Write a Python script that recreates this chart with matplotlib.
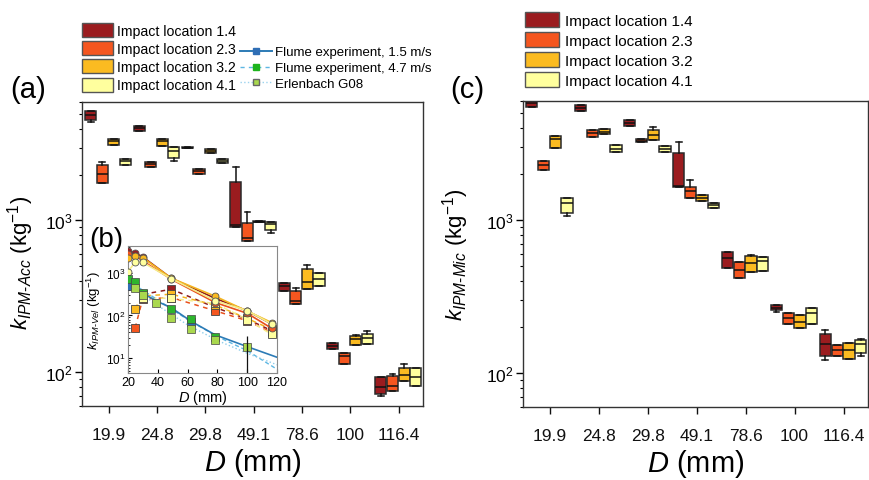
import numpy as np
import matplotlib.pyplot as plt
from matplotlib.patches import Patch
from matplotlib.lines import Line2D

plt.rcParams['font.family'] = ['Liberation Sans', 'DejaVu Sans']
plt.rcParams['mathtext.fontset'] = 'custom'
plt.rcParams['mathtext.rm'] = 'Liberation Sans'
plt.rcParams['mathtext.it'] = 'Liberation Sans:italic'
plt.rcParams['mathtext.bf'] = 'Liberation Sans:bold'

# diameters (category labels)
diam_labels = ['19.9', '24.8', '29.8', '49.1', '78.6', '100', '116.4']
diam_mm = [19.9, 24.8, 29.8, 49.1, 78.6, 100, 116.4]
locations = ['Impact location 1.4', 'Impact location 2.3',
             'Impact location 3.2', 'Impact location 4.1']
loc_colors = ['#9B1C1F', '#F5561F', '#FBBB21', '#FFFF9E']

# panel (a) k_IPM-Acc, rows = (whislo, q1, med, q3, whishi) per diameter
acc_14 = [(4420, 4570, 4900, 5236, 5236), (3865, 3865, 4020, 4170, 4170),
          (2990, 2990, 3010, 3030, 3030), (904, 904, 930, 1787, 2255),
          (343, 343, 370, 389, 389), (142, 142, 149, 155, 155),
          (70, 72.4, 80.5, 93, 93)]
acc_23 = [(1770, 1770, 2010, 2300, 2420), (2250, 2250, 2330, 2420, 2420),
          (2010, 2010, 2110, 2190, 2190), (731, 731, 769, 966, 1141),
          (280, 280, 295, 343, 357), (113, 113, 128, 133, 133),
          (75.5, 75.5, 81, 94.5, 98)]
acc_32 = [(3113, 3113, 3300, 3447, 3447), (3090, 3090, 3330, 3420, 3420),
          (2790, 2790, 2870, 2965, 2965), (975, 975, 980, 990, 990),
          (355, 355, 393, 481, 506), (151, 151, 166, 173, 175),
          (88, 88, 95.8, 106, 113)]
acc_41 = [(2300, 2300, 2455, 2546, 2546), (2440, 2560, 2856, 3055, 3055),
          (2370, 2370, 2460, 2546, 2546), (821, 864, 941, 980, 980),
          (370, 370, 409, 453, 453), (153, 153, 169, 178, 187),
          (81, 81, 93, 106, 106)]

# panel (c) k_IPM-Mic
mic_14 = [(5500, 5500, 5780, 6200, 6200), (5140, 5140, 5380, 5630, 5630),
          (4100, 4100, 4290, 4490, 4490), (1635, 1635, 1660, 2750, 3245),
          (489, 489, 562, 615, 615), (250, 257, 268, 279, 279),
          (121, 130, 155, 180, 192)]
mic_23 = [(2120, 2120, 2285, 2440, 2440), (3500, 3500, 3680, 3865, 3865),
          (3245, 3245, 3300, 3410, 3410), (1385, 1385, 1545, 1652, 1823),
          (417, 417, 473, 535, 535), (210, 210, 228, 246, 246),
          (128.5, 128.5, 142, 153, 153)]
mic_32 = [(2980, 2980, 3410, 3530, 3530), (3640, 3640, 3780, 3925, 3925),
          (3360, 3360, 3620, 3865, 4040), (1338, 1338, 1400, 1456, 1456),
          (456, 456, 522, 582, 590), (197, 197, 217, 238, 238),
          (124, 124, 142, 157, 157)]
mic_41 = [(1060, 1106, 1285, 1385, 1385), (2765, 2765, 2930, 3080, 3080),
          (2790, 2790, 2910, 3040, 3040), (1192, 1192, 1245, 1298, 1298),
          (468, 468, 544, 571, 571), (210, 210, 246, 265, 265),
          (130, 135, 154, 165, 168)]

# inset (b) k_IPM-Vel
vel_fit_14 = [3200, 2900, 2350, 740, 250, 128, 63]
vel_fit_23 = [2700, 2500, 1900, 700, 200, 112, 50]
vel_fit_32 = [2250, 2500, 2250, 740, 280, 126, 68]
vel_fit_41 = [1050, 1750, 1750, 720, 220, 130, 63]
nan = np.nan
vel_box_14 = [nan, nan, 310, 410, 153, 82, 44]
vel_box_23 = [nan, 51, 240, 262, 128, 75, 40]
vel_box_32 = [nan, 145, 286, 313, 174, 85, 47]
vel_box_41 = [nan, nan, 260, 250, 190, 80, 36]

flume_D = [20, 29.8, 40, 49.1, 62.6, 78.6, 100, 120]
flume_15 = [480, 330, 210, 150, 72, 35, 18.6, 10.5]
flume15_pts_D = [19.9, 62.6]
flume15_pts = [480, 70]
flume47_D = [19.9, 24.8, 29.8, 49.1, 62.6, 78.6]
flume47 = [700, 620, 330, 140, 82, 31]
fit47_D = [20, 40, 60, 80, 100, 120]
fit47 = [650, 230, 80, 32, 15, 5.5]
erl_D = [24.8, 29.8, 38.6, 49.1, 62.6, 78.6, 100]
erl = [447, 300, 200, 89, 48, 27, 18]
erl_fit_D = [20, 40, 60, 80, 100, 120]
erl_fit = [520, 170, 60, 26, 13, 7]

W, H = 870, 481
fig = plt.figure(figsize=(W / 100, H / 100), dpi=100)


def px_axes(x0, y0, x1, y1):
    return fig.add_axes([x0 / W, 1 - y1 / H, (x1 - x0) / W, (y1 - y0) / H])


def to_stats(rows):
    return [dict(whislo=r[0], q1=r[1], med=r[2], q3=r[3], whishi=r[4]) for r in rows]


offsets = [-0.37, -0.13, 0.11, 0.35]
groups = np.arange(1, len(diam_labels) + 1)


def box_panel(ax, series):
    for rows, off, col in zip(series, offsets, loc_colors):
        ax.bxp(to_stats(rows), positions=groups + off, widths=0.23,
               capwidths=0.12, patch_artist=True, showfliers=False,
               manage_ticks=False,
               boxprops=dict(facecolor=col, edgecolor='#2a2a2a', linewidth=1.1),
               medianprops=dict(color='#111111', linewidth=1.1),
               whiskerprops=dict(color='#111111', linewidth=1.1),
               capprops=dict(color='#111111', linewidth=1.1))
    ax.set_yscale('log')
    ax.set_ylim(60, 6000)
    ax.set_xlim(0.45, 7.5)
    ax.set_xticks(groups)
    ax.set_xticklabels(diam_labels)
    ax.tick_params(axis='x', which='major', direction='out', length=5,
                   width=1, pad=10, labelsize=12.5, colors='#111')
    ax.tick_params(axis='y', which='major', direction='out', length=5,
                   width=1, pad=2, labelsize=12.5)
    ax.tick_params(axis='y', which='minor', direction='out', length=2.5, width=0.8)
    for s in ax.spines.values():
        s.set_color('#333333')
        s.set_linewidth(1)
    ax.set_xlabel(r'$D$ (mm)', fontsize=21)
    ax.xaxis.set_label_coords(0.5, -0.13)


ax_a = px_axes(82, 103, 423, 407)
box_panel(ax_a, [acc_14, acc_23, acc_32, acc_41])
ax_a.set_ylabel(r'$k_{IPM\text{-}Acc}$ (kg$^{-1}$)', fontsize=16)
ax_a.yaxis.set_label_coords(-0.135, 0.475)

ax_c = px_axes(523, 102, 868, 408)
box_panel(ax_c, [mic_14, mic_23, mic_32, mic_41])
ax_c.set_ylabel(r'$k_{IPM\text{-}Mic}$ (kg$^{-1}$)', fontsize=16)
ax_c.yaxis.set_label_coords(-0.15, 0.5)

# inset (b)
axb = px_axes(128, 247, 277, 374)
axb.set_facecolor('white')
line_cols = ['#8E1B1B', '#E8501C', '#F4B41E', '#F5EC8A']
for fit, col, fc in zip([vel_fit_14, vel_fit_23, vel_fit_32, vel_fit_41],
                        line_cols, loc_colors):
    axb.plot(diam_mm, fit, '-', color=col, lw=1.2, marker='o', ms=5,
             mfc=fc, mec='#555555', mew=0.6, zorder=4)
for box, col, fc in zip([vel_box_14, vel_box_23, vel_box_32, vel_box_41],
                        line_cols, loc_colors):
    axb.plot(diam_mm, box, '--', color=col, lw=1.1, dashes=(3, 3), zorder=3)
    axb.plot(diam_mm, box, 's', ms=5.5, mfc=fc, mec='#444444', mew=0.6, zorder=3)
axb.plot(flume_D, flume_15, '-', color='#2C7BB6', lw=1.2, zorder=5)
axb.plot(flume15_pts_D, flume15_pts, 's', ms=5.5, mfc='#2F6EB5', mec='#444', mew=0.5, zorder=5)
axb.plot(fit47_D, fit47, '--', color='#5DB7E3', lw=1.0, dashes=(3, 2), zorder=4)
axb.plot(erl_fit_D, erl_fit, ':', color='#8FCDEB', lw=1.0, zorder=4)
axb.plot(flume47_D, flume47, 's', ms=5.5, mfc='#2DB52D', mec='#444', mew=0.5, zorder=5)
axb.plot(erl_D, erl, 's', ms=5.5, mfc='#A9D84E', mec='#444', mew=0.5, zorder=5)
axb.errorbar([100], [18], yerr=[[14], [15]], fmt='none', ecolor='#111', lw=0.9, zorder=6)
axb.set_yscale('log')
axb.set_xlim(20, 120)
axb.set_ylim(4.5, 4200)
axb.set_xticks([20, 40, 60, 80, 100, 120])
axb.tick_params(which='both', direction='in', labelsize=9, pad=2)
axb.tick_params(axis='y', labelsize=8.5, pad=1.5)
axb.tick_params(which='major', length=3)
axb.tick_params(which='minor', length=1.5)
for s in axb.spines.values():
    s.set_color('#888888')
axb.set_xlabel(r'$D$ (mm)', fontsize=10.5, labelpad=0)
axb.set_ylabel(r'$k_{IPM\text{-}Vel}$ (kg$^{-1}$)', fontsize=9.5)
axb.yaxis.set_label_coords(-0.165, 0.5)

# panel labels
fig.text(28 / W, 1 - 90 / H, '(a)', fontsize=21, ha='center', va='center')
fig.text(106 / W, 1 - 240 / H, '(b)', fontsize=20, ha='center', va='center')
fig.text(467 / W, 1 - 90 / H, '(c)', fontsize=21, ha='center', va='center')

# legends
patches = [Patch(facecolor=c, edgecolor='#555555', linewidth=1) for c in loc_colors]
fig.legend(patches, locations, loc='upper left', bbox_to_anchor=(82 / W, 1 - 24 / H),
           frameon=False, fontsize=10.2, handlelength=2.2, handleheight=1.12,
           labelspacing=0.25, handletextpad=0.3, borderpad=0, borderaxespad=0)
flume_handles = [
    Line2D([], [], color='#2C7BB6', lw=1.4, marker='s', ms=5, mfc='#2F6EB5', mec='#2F6EB5'),
    Line2D([], [], color='#5DB7E3', lw=1.0, ls='--', dashes=(3, 3), marker='s', ms=5,
           mfc='#1DB31D', mec='#1DB31D'),
    Line2D([], [], color='#9CD3EE', lw=1.0, ls=':', marker='s', ms=5, mfc='#A9D84E', mec='#666'),
]
fig.legend(flume_handles, ['Flume experiment, 1.5 m/s', 'Flume experiment, 4.7 m/s',
                           'Erlenbach G08'],
           loc='upper left', bbox_to_anchor=(240 / W, 1 - 47 / H),
           frameon=False, fontsize=9.5, handlelength=2.4, labelspacing=0.28,
           handletextpad=0.25, borderpad=0, borderaxespad=0)
fig.legend(patches, locations, loc='upper left', bbox_to_anchor=(525 / W, 1 - 13 / H),
           frameon=False, fontsize=11, handlelength=2.2, handleheight=1.1,
           labelspacing=0.3, handletextpad=0.4, borderpad=0, borderaxespad=0)

fig.savefig('out.png', dpi=100)
